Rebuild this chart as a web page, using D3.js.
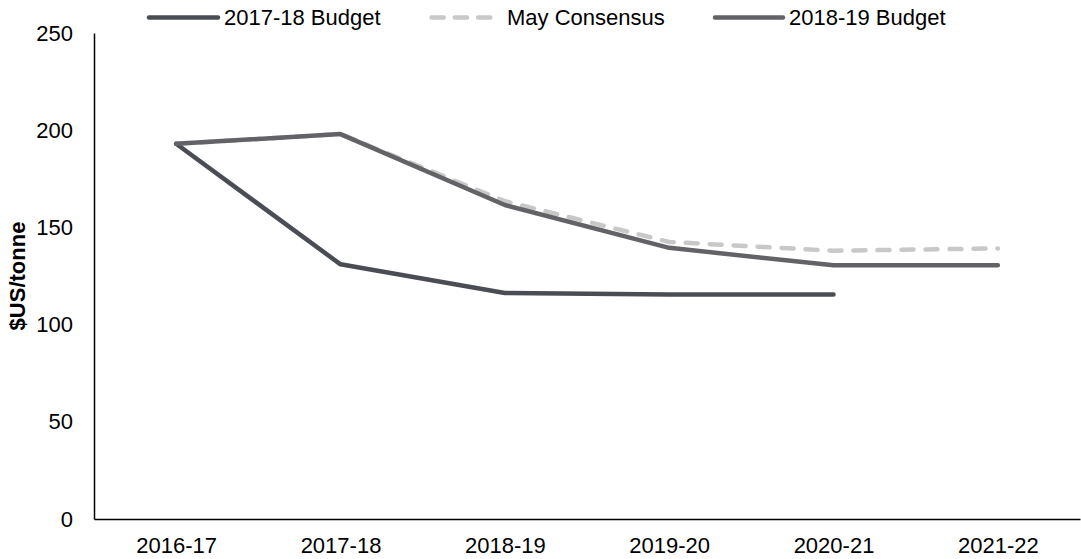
<!DOCTYPE html>
<html><head><meta charset="utf-8">
<script src="https://cdn.jsdelivr.net/npm/d3@7"></script>
<style>body{margin:0;background:#fff}svg{display:block}text{font-family:"Liberation Sans",Arial,sans-serif}</style>
</head><body><svg id="c" width="1081" height="559"></svg>
<script>
const categories = ["2016-17","2017-18","2018-19","2019-20","2020-21","2021-22"];
const budget1718 = [193, 131, 116.3, 115.5, 115.5, null];
const mayConsensus = [193, 198, 163.5, 142.5, 138, 139.2];
const budget1819 = [193, 198, 161.5, 139.5, 130.5, 130.5];
const yTicks = [0, 50, 100, 150, 200, 250];
const seriesNames = ["2017-18 Budget", "May Consensus", "2018-19 Budget"];

(function () {
const svg = d3.select("#c");
const FS = 22;
const mLeft = 94, mRight = 1080, mTop = 33, mBottom = 519;
const x = d3.scalePoint().domain(categories).range([mLeft, mRight]).padding(0.5);
const y = d3.scaleLinear().domain([0, 250]).range([mBottom, mTop]);

// axes
const yAxis = svg.append("g").attr("transform", `translate(${mLeft},0)`)
  .call(d3.axisLeft(y).tickValues(yTicks).tickSize(0).tickPadding(21));
yAxis.select(".domain").attr("stroke", "#000").attr("stroke-width", 1.5);
yAxis.selectAll("text").attr("font-size", FS).attr("fill", "#000");

const xAxis = svg.append("g").attr("transform", `translate(0,${mBottom})`)
  .call(d3.axisBottom(x).tickSize(0).tickPadding(18));
xAxis.select(".domain").attr("stroke", "#000").attr("stroke-width", 1.5);
xAxis.selectAll("text").attr("font-size", FS).attr("fill", "#000");
svg.selectAll(".tick line").remove();

svg.append("text").attr("transform", `translate(17,${(mTop+mBottom)/2}) rotate(-90)`)
  .attr("text-anchor", "middle").attr("dy", "0.35em").attr("font-size", FS)
  .attr("font-weight", "bold").text("$US/tonne");

const line = d3.line().defined(d => d.v != null).x(d => x(d.c)).y(d => y(d.v));
const colors = ["#4a4d53", "#c8c8c8", "#636267"];
function draw(vals, color, dash) {
  const data = categories.map((c, i) => ({c, v: vals[i]}));
  svg.append("path").datum(data).attr("d", line).attr("fill", "none")
    .attr("stroke", color).attr("stroke-width", 4.5).attr("stroke-linecap", "round")
    .attr("stroke-linejoin", "round").attr("stroke-dasharray", dash || null);
}
draw(mayConsensus, colors[1], "12,12");
draw(budget1718, colors[0]);
draw(budget1819, colors[2]);

// legend
const legend = [
  {x1: 149, x2: 218, tx: 224},
  {x1: 431.5, x2: 491, tx: 507, dash: "12.2,11.1"},
  {x1: 715, x2: 783, tx: 789}
];
legend.forEach((l, i) => {
  svg.append("line").attr("x1", l.x1).attr("x2", l.x2).attr("y1", 17.5).attr("y2", 17.5)
    .attr("stroke", colors[i]).attr("stroke-width", 4.5).attr("stroke-linecap", "round")
    .attr("stroke-dasharray", l.dash || null);
  svg.append("text").attr("x", l.tx).attr("y", 17.5).attr("dy", "0.35em")
    .attr("font-size", FS).attr("fill", "#000").text(seriesNames[i]);
});
})();
</script></body></html>
